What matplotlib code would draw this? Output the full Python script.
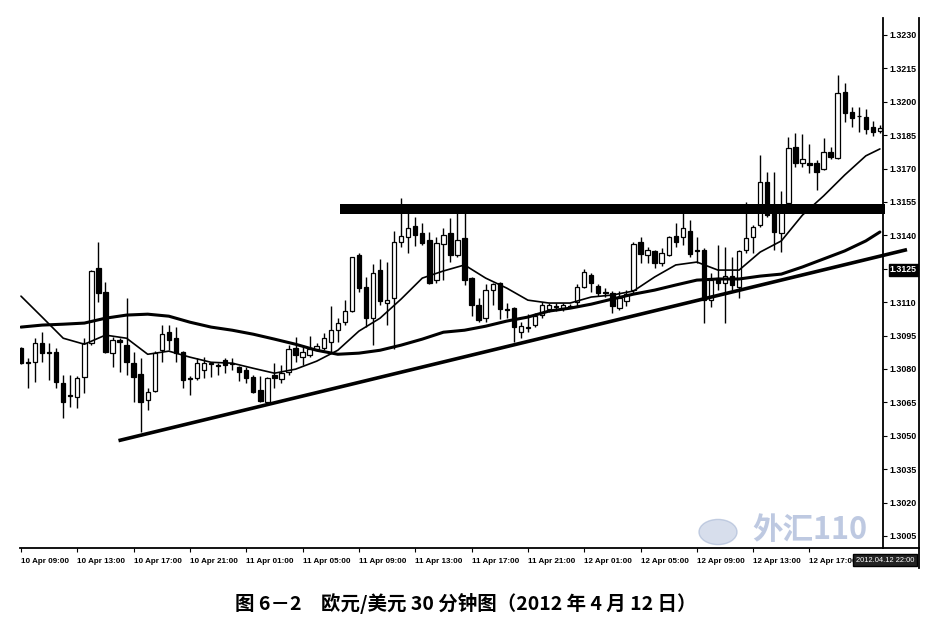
import matplotlib
matplotlib.use("Agg")
import matplotlib.pyplot as plt
from matplotlib.lines import Line2D
from matplotlib.patches import Circle
import numpy as np

# ---------------- data (EUR/USD 30-min, 10-12 Apr 2012) ----------------
opens = [1.30893, 1.30830, 1.30830, 1.30916, 1.30875, 1.30875, 1.30736, 1.30682, 1.30673, 1.30763,
         1.30916, 1.31253, 1.31145, 1.30871, 1.30929, 1.30907, 1.30826, 1.30776, 1.30660, 1.30700,
         1.30884, 1.30965, 1.30938, 1.30875, 1.30758, 1.30758, 1.30794, 1.30826, 1.30817, 1.30839,
         1.30826, 1.30808, 1.30794, 1.30763, 1.30705, 1.30651, 1.30772, 1.30754, 1.30785, 1.30893,
         1.30853, 1.30862, 1.30889, 1.30893, 1.30920, 1.30974, 1.31010, 1.31060, 1.31312, 1.31168,
         1.31028, 1.31244, 1.31096, 1.31118, 1.31370, 1.31393, 1.31442, 1.31411, 1.31379, 1.31199,
         1.31361, 1.31411, 1.31312, 1.31388, 1.31208, 1.31087, 1.31028, 1.31154, 1.31186, 1.31069,
         1.31073, 1.30965, 1.30986, 1.30997, 1.31042, 1.31069, 1.31082, 1.31073, 1.31082, 1.31100,
         1.31168, 1.31222, 1.31172, 1.31145, 1.31141, 1.31073, 1.31105, 1.31154, 1.31370, 1.31312,
         1.31330, 1.31276, 1.31312, 1.31397, 1.31393, 1.31420, 1.31334, 1.31334, 1.31109, 1.31208,
         1.31186, 1.31217, 1.31168, 1.31334, 1.31393, 1.31447, 1.31640, 1.31523, 1.31411, 1.31545,
         1.31797, 1.31725, 1.31725, 1.31725, 1.31698, 1.31774, 1.31747, 1.32044, 1.31954, 1.31936,
         1.31931, 1.31887, 1.31869]
highs = [1.30898, 1.30848, 1.30938, 1.30965, 1.30916, 1.30893, 1.30772, 1.30772, 1.30767, 1.30938,
         1.31244, 1.31370, 1.31190, 1.30943, 1.30938, 1.31118, 1.30875, 1.30848, 1.30714, 1.30880,
         1.30997, 1.30997, 1.30988, 1.30880, 1.30767, 1.30848, 1.30853, 1.30830, 1.30826, 1.30848,
         1.30848, 1.30812, 1.30808, 1.30772, 1.30767, 1.30763, 1.30826, 1.30817, 1.30907, 1.30943,
         1.30907, 1.30947, 1.30916, 1.30961, 1.31082, 1.31028, 1.31109, 1.31303, 1.31321, 1.31213,
         1.31271, 1.31294, 1.31280, 1.31420, 1.31568, 1.31500, 1.31483, 1.31455, 1.31415, 1.31393,
         1.31433, 1.31478, 1.31500, 1.31500, 1.31213, 1.31118, 1.31181, 1.31186, 1.31190, 1.31096,
         1.31078, 1.31010, 1.31046, 1.31051, 1.31100, 1.31096, 1.31096, 1.31096, 1.31091, 1.31181,
         1.31249, 1.31231, 1.31181, 1.31163, 1.31150, 1.31150, 1.31154, 1.31370, 1.31393, 1.31348,
         1.31334, 1.31343, 1.31397, 1.31455, 1.31500, 1.31469, 1.31393, 1.31343, 1.31231, 1.31357,
         1.31348, 1.31303, 1.31334, 1.31550, 1.31447, 1.31761, 1.31684, 1.31684, 1.31600, 1.31842,
         1.31860, 1.31855, 1.31810, 1.31738, 1.31837, 1.31797, 1.32120, 1.32084, 1.31977, 1.31977,
         1.31968, 1.31914, 1.31896]
lows = [1.30821, 1.30714, 1.30740, 1.30830, 1.30749, 1.30714, 1.30579, 1.30628, 1.30624, 1.30691,
        1.30907, 1.31100, 1.30871, 1.30808, 1.30785, 1.30772, 1.30651, 1.30516, 1.30615, 1.30696,
        1.30830, 1.30884, 1.30830, 1.30714, 1.30682, 1.30749, 1.30758, 1.30763, 1.30772, 1.30781,
        1.30794, 1.30745, 1.30736, 1.30691, 1.30651, 1.30648, 1.30714, 1.30736, 1.30772, 1.30830,
        1.30817, 1.30853, 1.30884, 1.30884, 1.30875, 1.30920, 1.30997, 1.31055, 1.31145, 1.30988,
        1.30907, 1.31087, 1.30997, 1.30889, 1.31348, 1.31321, 1.31352, 1.31357, 1.31181, 1.31186,
        1.31199, 1.31280, 1.31303, 1.31177, 1.31037, 1.31010, 1.31010, 1.31087, 1.31024, 1.31028,
        1.30920, 1.30938, 1.30965, 1.30988, 1.31028, 1.31055, 1.31060, 1.31060, 1.31073, 1.31082,
        1.31163, 1.31145, 1.31127, 1.31123, 1.31051, 1.31064, 1.31082, 1.31141, 1.31276, 1.31276,
        1.31253, 1.31262, 1.31307, 1.31348, 1.31357, 1.31303, 1.31276, 1.31006, 1.31078, 1.31154,
        1.31006, 1.31154, 1.31118, 1.31321, 1.31321, 1.31438, 1.31483, 1.31334, 1.31325, 1.31536,
        1.31707, 1.31707, 1.31680, 1.31604, 1.31693, 1.31743, 1.31743, 1.31909, 1.31887, 1.31864,
        1.31855, 1.31846, 1.31860]
closes = [1.30826, 1.30826, 1.30916, 1.30871, 1.30871, 1.30740, 1.30651, 1.30678, 1.30758, 1.30916,
          1.31240, 1.31141, 1.30875, 1.30929, 1.30920, 1.30830, 1.30763, 1.30651, 1.30696, 1.30871,
          1.30956, 1.30929, 1.30871, 1.30749, 1.30754, 1.30826, 1.30826, 1.30821, 1.30812, 1.30817,
          1.30821, 1.30785, 1.30758, 1.30696, 1.30655, 1.30758, 1.30758, 1.30781, 1.30889, 1.30862,
          1.30875, 1.30889, 1.30902, 1.30938, 1.30974, 1.31006, 1.31060, 1.31303, 1.31163, 1.31028,
          1.31231, 1.31105, 1.31109, 1.31370, 1.31397, 1.31433, 1.31402, 1.31366, 1.31186, 1.31366,
          1.31402, 1.31312, 1.31379, 1.31199, 1.31087, 1.31019, 1.31154, 1.31181, 1.31069, 1.31064,
          1.30988, 1.30992, 1.30990, 1.31037, 1.31087, 1.31087, 1.31080, 1.31087, 1.31080, 1.31168,
          1.31235, 1.31186, 1.31141, 1.31141, 1.31082, 1.31118, 1.31136, 1.31361, 1.31316, 1.31334,
          1.31276, 1.31321, 1.31393, 1.31370, 1.31433, 1.31316, 1.31330, 1.31109, 1.31199, 1.31186,
          1.31217, 1.31177, 1.31330, 1.31388, 1.31438, 1.31640, 1.31491, 1.31415, 1.31536, 1.31792,
          1.31725, 1.31743, 1.31716, 1.31684, 1.31774, 1.31752, 1.32039, 1.31950, 1.31927, 1.31934,
          1.31878, 1.31864, 1.31882]

# moving averages (bar index, price)
ma_bars = [0, 3, 6, 9, 12, 15, 18, 21, 24, 27, 30, 33, 36, 39, 42, 45, 48, 51, 54, 57, 60,
           63, 66, 69, 72, 75, 78, 81, 84, 87, 90, 93, 96, 99, 102, 105, 108, 111, 114, 117, 120, 122]
ma_fast = [1.31127, 1.31033, 1.30938, 1.30911, 1.30952, 1.30938, 1.30866, 1.30880, 1.30853, 1.30830,
           1.30826, 1.30803, 1.30781, 1.30799, 1.30835, 1.30884, 1.30970, 1.31028, 1.31114, 1.31208,
           1.31240, 1.31267, 1.31208, 1.31163, 1.31109, 1.31096, 1.31096, 1.31123, 1.31132, 1.31150,
           1.31213, 1.31267, 1.31280, 1.31244, 1.31244, 1.31325, 1.31375, 1.31491, 1.31577, 1.31671,
           1.31757, 1.31788]
ma_slow = [1.30988, 1.30997, 1.31001, 1.31006, 1.31028, 1.31042, 1.31046, 1.31037, 1.31010, 1.30988,
           1.30974, 1.30956, 1.30934, 1.30911, 1.30884, 1.30866, 1.30871, 1.30884, 1.30907, 1.30934,
           1.30965, 1.30974, 1.30992, 1.31015, 1.31033, 1.31060, 1.31073, 1.31091, 1.31114, 1.31136,
           1.31154, 1.31177, 1.31199, 1.31204, 1.31204, 1.31217, 1.31226, 1.31258, 1.31294, 1.31330,
           1.31375, 1.31415]

trend_bars = [14.1, 125.6]
trend_prices = [1.30480, 1.31334]
resist_bars = [45.3, 122.7]
resist_price = 1.31518

y_ticks = [1.3005, 1.3020, 1.3035, 1.3050, 1.3065, 1.3080, 1.3095, 1.3110, 1.3125,
           1.3140, 1.3155, 1.3170, 1.3185, 1.3200, 1.3215, 1.3230]
x_tick_bars = [0, 8, 16, 24, 32, 40, 48, 56, 64, 72, 80, 88, 96, 104, 112]
x_tick_labels = ["10 Apr 09:00", "10 Apr 13:00", "10 Apr 17:00", "10 Apr 21:00",
                 "11 Apr 01:00", "11 Apr 05:00", "11 Apr 09:00", "11 Apr 13:00",
                 "11 Apr 17:00", "11 Apr 21:00", "12 Apr 01:00", "12 Apr 05:00",
                 "12 Apr 09:00", "12 Apr 13:00", "12 Apr 17:00"]
marked_price = "1.3125"
last_time = "2012.04.12 22:00"
caption = "图 6－2　欧元/美元 30 分钟图（2012 年 4 月 12 日）"

# ---------------- figure ----------------
W, H = 951, 629
fig = plt.figure(figsize=(W / 100, H / 100), dpi=100)
ax = fig.add_axes([20 / W, 1 - 548 / H, 863 / W, 530 / H])

o = np.array(opens); h = np.array(highs); l = np.array(lows); c = np.array(closes)
x = np.arange(len(o))
up = c >= o

ax.vlines(x, l, h, color="black", linewidth=1.0, zorder=2)
body_lo = np.minimum(o, c)
body_h = np.maximum(np.abs(c - o), 0.00002)
ax.bar(x[up], body_h[up], bottom=body_lo[up], width=0.62, facecolor="white",
       edgecolor="black", linewidth=0.9, zorder=3)
ax.bar(x[~up], body_h[~up], bottom=body_lo[~up], width=0.62, facecolor="black",
       edgecolor="black", linewidth=0.9, zorder=3)

ax.plot(ma_bars, ma_fast, color="black", linewidth=1.2, zorder=4, solid_capstyle="round")
ax.plot(ma_bars, ma_slow, color="black", linewidth=2.2, zorder=4, solid_capstyle="round")
ax.plot(trend_bars, trend_prices, color="black", linewidth=2.6, zorder=4, clip_on=False)
ax.plot(resist_bars, [resist_price, resist_price], color="black", linewidth=7.2,
        zorder=5, clip_on=False, solid_capstyle="butt")

ax.set_xlim(-0.14, 122.44)
ax.set_ylim(1.29996, 1.32376)

for s in ["top", "left"]:
    ax.spines[s].set_visible(False)
ax.spines["right"].set_linewidth(1.3)
ax.spines["bottom"].set_linewidth(1.3)

tick_font = dict(family=["Liberation Sans", "DejaVu Sans"], weight="bold")

ax.yaxis.tick_right()
ax.set_yticks(y_ticks)
ax.set_yticklabels([f"{v:.4f}" for v in y_ticks], fontsize=6.4, **tick_font)
ax.tick_params(axis="y", length=3, width=0.8, pad=2)
for lab in ax.get_yticklabels():
    if lab.get_text() == marked_price:
        lab.set_color("white")
        lab.set_bbox(dict(facecolor="black", edgecolor="black", pad=1.0))

ax.set_xticks(x_tick_bars)
ax.set_xticklabels(x_tick_labels, fontsize=5.8, ha="left", **tick_font)
ax.tick_params(axis="x", length=3, width=0.8, pad=4)

# right edge of price panel and bottom axis extension
fig.add_artist(Line2D([919 / W, 919 / W], [1 - 18 / H, 1 - 568 / H], color="black", linewidth=1.3))
fig.add_artist(Line2D([883 / W, 919 / W], [1 - 548 / H, 1 - 548 / H], color="black", linewidth=1.3))

# last time box
fig.text(885 / W, 1 - 560 / H, last_time, fontsize=5.4, color="white", ha="center", va="center",
         family=["Liberation Sans", "DejaVu Sans"],
         bbox=dict(facecolor="#222222", edgecolor="black", pad=1.8), zorder=10)

# faint watermark
fig.add_artist(Circle((718 / W, 1 - 532 / H), 0.02, transform=fig.transFigure,
                      facecolor="#b7c4de", edgecolor="#9fb0d0", alpha=0.55, zorder=1))
fig.text(810 / W, 1 - 530 / H, "外汇110", fontsize=22, color="#a9b8d8", alpha=0.75,
         ha="center", va="center", style="italic", fontweight="bold",
         family=["Noto Sans CJK SC", "DejaVu Sans"], zorder=1)

fig.text(466 / W, 1 - 604 / H, caption, fontsize=14, fontweight="bold", ha="center", va="center",
         family=["Noto Sans CJK SC", "DejaVu Sans"])

fig.savefig("out.png", dpi=100)
